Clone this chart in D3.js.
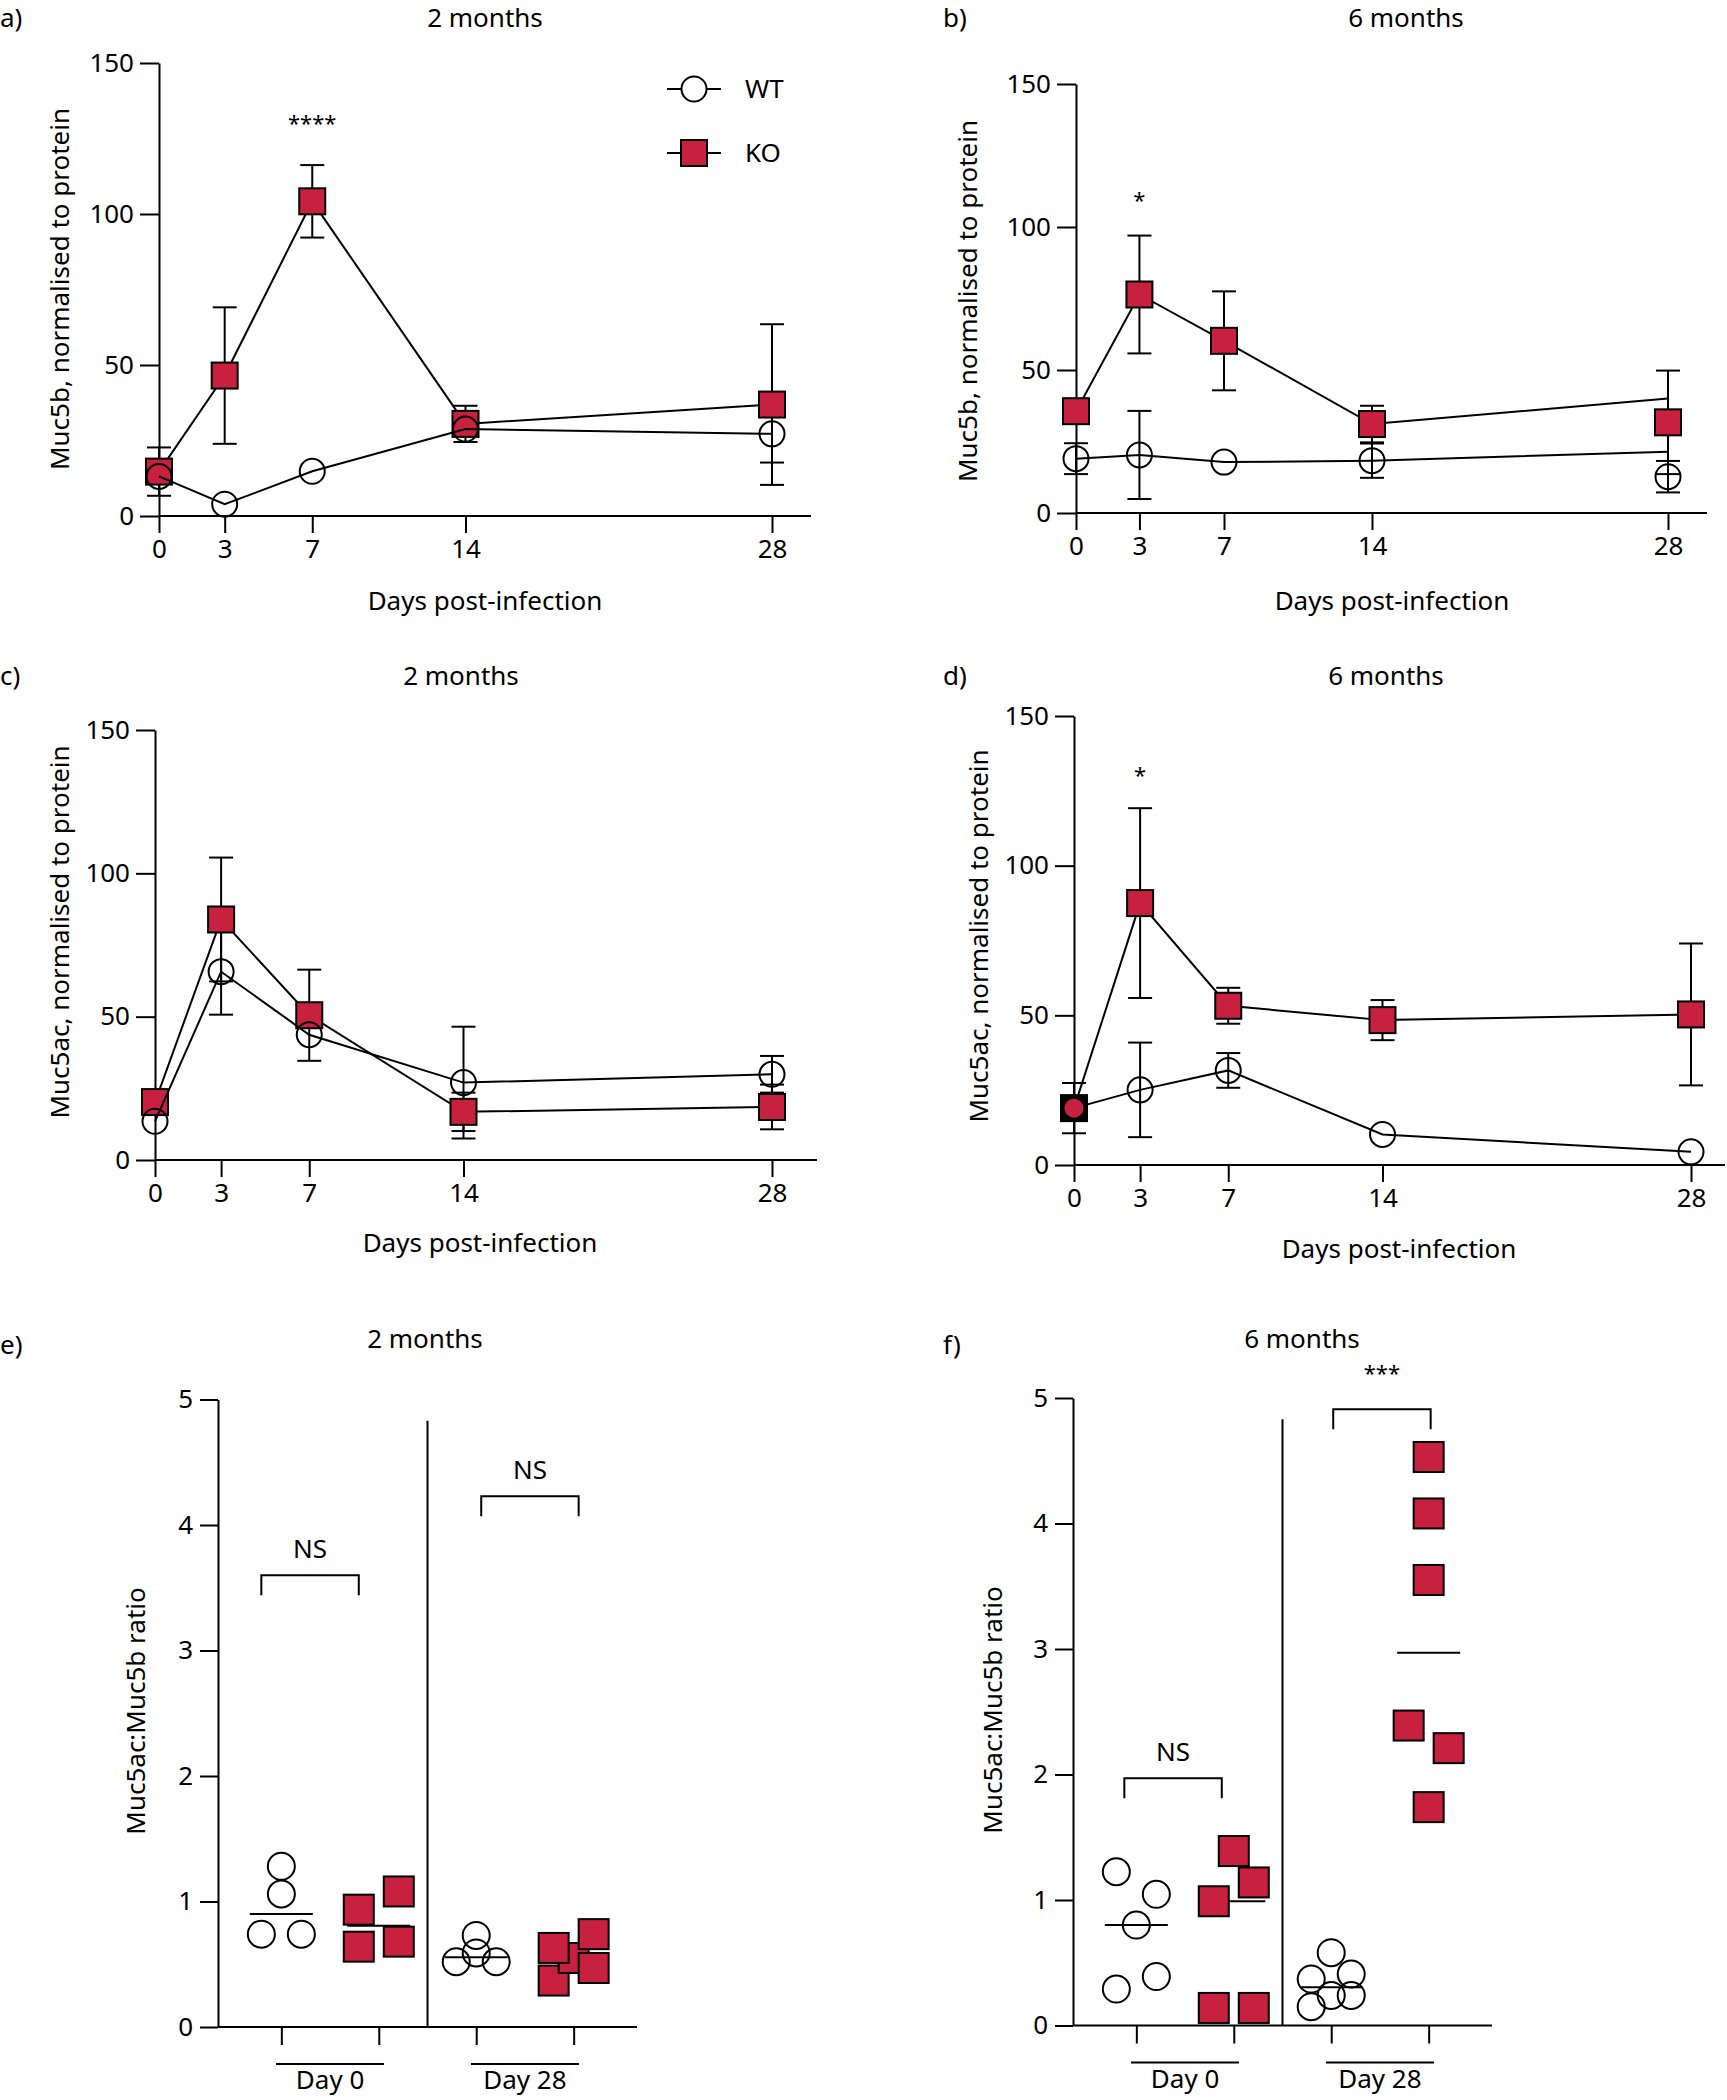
<!DOCTYPE html>
<html>
<head>
<meta charset="utf-8">
<script src="https://cdn.jsdelivr.net/npm/d3@7"></script>
<style>
  body { margin: 0; background: #fff; }
  text { font-family: "Noto Sans", sans-serif; fill: #000; }
</style>
</head>
<body>
<svg id="fig" width="1727" height="2100"></svg>
<script>
// ---- data ----
const days = [0, 3, 7, 14, 28];
const muc5bTicks = [0, 50, 100, 150];
const ratioTicks = [0, 1, 2, 3, 4, 5];

// a) Muc5b, 2 months
const a_wt = [13.1, 3.9, 14.8, 28.8, 27.2];
const a_wtSd = [0, 0, 0, 0, 9.5];
const a_ko = [14.7, 46.5, 104.2, 30.5, 36.9];
const a_koSd = [8, 22.6, 12, 6, 26.6];

// b) Muc5b, 6 months (connecting line ends off the day-28 markers in the original)
const b_wt = [19, 20.3, 17.8, 18.3, 12.7];
const b_wtSd = [5.4, 15.4, 0, 6, 5.5];
const b_wtLine = [19, 20.3, 17.8, 18.3, 21.4];
const b_ko = [35.6, 76.4, 60.2, 31.1, 31.7];
const b_koSd = [0, 20.6, 17.3, 6.4, 18.1];
const b_koLine = [35.6, 76.4, 60.2, 31.1, 40];

// c) Muc5ac, 2 months
const c_wt = [13.5, 65.7, 43.7, 27.0, 29.9];
const c_wtSd = [0, 15, 0, 19.5, 6.4];
const c_ko = [20.2, 83.9, 50.5, 16.8, 18.5];
const c_koSd = [0, 21.6, 15.9, 6.7, 7.8];

// d) Muc5ac, 6 months
const d_wt = [19, 25.1, 31.6, 10.2, 4.4];
const d_wtSd = [8.4, 15.8, 5.8, 0, 0];
const d_ko = [19, 87.5, 53.2, 48.4, 50.3];
const d_koSd = [0, 31.7, 6, 6.7, 23.7];

// e) ratio, 2 months
const e_wt0 = [1.28, 1.06, 0.74, 0.74];
const e_ko0 = [0.935, 1.08, 0.64, 0.68];
const e_wt28 = [0.52, 0.59, 0.52, 0.73];
const e_ko28 = [0.37, 0.55, 0.47, 0.63, 0.74];

// f) ratio, 6 months
const f_wt0 = [1.225, 1.045, 0.80, 0.29, 0.39];
const f_ko0 = [1.39, 0.99, 1.14, 0.14, 0.14];
const f_wt28 = [0.15, 0.37, 0.41, 0.24, 0.24, 0.58];
const f_ko28 = [4.53, 4.08, 3.55, 2.39, 2.21, 1.74];

const groupNames = ["Day 0", "Day 28"];

// ---- drawing ----
const svg = d3.select("#fig");
const KO_RED = "#c8203f";
const FS = 26;

function styleAxis(sel) {
  sel.attr("font-size", FS).attr("font-family", "Noto Sans, sans-serif");
  sel.selectAll("path, line").attr("stroke", "#000").attr("stroke-width", 2);
  sel.selectAll("text").attr("fill", "#000");
}

function addText(g, x, y, txt, anchor, size) {
  return g.append("text").attr("x", x).attr("y", y)
    .attr("text-anchor", anchor || "middle")
    .attr("font-size", size || FS).text(txt);
}

function yLabel(g, cx, cy, txt) {
  g.append("text")
    .attr("transform", `translate(${cx},${cy}) rotate(-90)`)
    .attr("text-anchor", "middle").attr("dy", "0.35em")
    .attr("font-size", FS).text(txt);
}

function errorBars(g, x, y, means, sds) {
  const pts = days.map((d, i) => ({ d: d, m: means[i], s: sds[i] })).filter(p => p.s > 0);
  const eb = g.append("g").attr("stroke", "#000").attr("stroke-width", 2);
  eb.selectAll(".v").data(pts).join("line")
    .attr("x1", p => x(p.d)).attr("x2", p => x(p.d))
    .attr("y1", p => y(p.m - p.s)).attr("y2", p => y(p.m + p.s));
  const caps = pts.flatMap(p => [{ d: p.d, v: p.m - p.s }, { d: p.d, v: p.m + p.s }]);
  eb.selectAll(".cap").data(caps).join("line")
    .attr("x1", c => x(c.d) - 12).attr("x2", c => x(c.d) + 12)
    .attr("y1", c => y(c.v)).attr("y2", c => y(c.v));
}

function linePanel(p) {
  const g = svg.append("g");
  const x = d3.scaleLinear().domain([0, 28]).range([p.x0, p.x28]);
  const y = d3.scaleLinear().domain([0, 150]).range([p.y0, p.yTop]);

  const ya = g.append("g").attr("transform", `translate(${p.x0},0)`)
    .call(d3.axisLeft(y).tickValues(muc5bTicks).tickSize(19).tickSizeOuter(0).tickPadding(6));
  styleAxis(ya);
  const xa = g.append("g").attr("transform", `translate(0,${p.y0})`)
    .call(d3.axisBottom(x).tickValues(days).tickSize(17).tickSizeOuter(0).tickPadding(7));
  xa.select(".domain").remove();
  styleAxis(xa);
  g.append("line").attr("x1", p.x0).attr("x2", p.xEnd).attr("y1", p.y0).attr("y2", p.y0)
    .attr("stroke", "#000").attr("stroke-width", 2);

  addText(g, p.label[0], p.label[1], p.tag, "start");
  addText(g, p.titleX, p.titleY, p.title);
  addText(g, p.xlabX, p.xlabY, "Days post-infection");
  yLabel(g, p.ylabX, p.ylabY, p.ylab);

  errorBars(g, x, y, p.ko, p.koSd);
  errorBars(g, x, y, p.wt, p.wtSd);

  const line = vals => d3.line().x((v, i) => x(days[i])).y(v => y(v))(vals);
  g.append("path").attr("d", line(p.koLine || p.ko))
    .attr("fill", "none").attr("stroke", "#000").attr("stroke-width", 2);
  g.selectAll(".ko").data(p.ko).join("rect")
    .attr("x", (v, i) => x(days[i]) - 13).attr("y", v => y(v) - 13)
    .attr("width", 26).attr("height", 26)
    .attr("fill", (v, i) => (p.swapFirst && i === 0) ? "#000" : KO_RED)
    .attr("stroke", "#000").attr("stroke-width", 2);
  g.append("path").attr("d", line(p.wtLine || p.wt))
    .attr("fill", "none").attr("stroke", "#000").attr("stroke-width", 2);
  g.selectAll(".wt").data(p.wt).join("circle")
    .attr("cx", (v, i) => x(days[i])).attr("cy", v => y(v))
    .attr("r", (v, i) => (p.swapFirst && i === 0) ? 9.5 : 12.5)
    .attr("fill", (v, i) => (p.swapFirst && i === 0) ? KO_RED : "none")
    .attr("stroke", (v, i) => (p.swapFirst && i === 0) ? "none" : "#000")
    .attr("stroke-width", 2);

  if (p.stars) {
    addText(g, x(p.stars.day), y(p.stars.value) + 12, p.stars.text, "middle", 22);
  }

  if (p.legend) {
    const lg = g.append("g").attr("transform", `translate(${p.legend[0]},${p.legend[1]})`);
    [["WT", 0], ["KO", 64]].forEach(([name, dy]) => {
      lg.append("line").attr("x1", -27).attr("x2", 27).attr("y1", dy).attr("y2", dy)
        .attr("stroke", "#000").attr("stroke-width", 2);
      if (name === "WT") {
        lg.append("circle").attr("cx", 0).attr("cy", dy).attr("r", 12.5)
          .attr("fill", "#fff").attr("stroke", "#000").attr("stroke-width", 2);
      } else {
        lg.append("rect").attr("x", -13).attr("y", dy - 13).attr("width", 26).attr("height", 26)
          .attr("fill", KO_RED).attr("stroke", "#000").attr("stroke-width", 2);
      }
      lg.append("text").attr("x", 51).attr("y", dy).attr("dy", "0.35em")
        .attr("font-size", FS).text(name);
    });
  }
}

// simple row-based swarm: points closer than thresh px share a row, spread over width
function swarm(vals, y, thresh, width) {
  const idx = d3.range(vals.length).sort((i, j) => vals[i] - vals[j]);
  const rows = [];
  idx.forEach(i => {
    const r = rows[rows.length - 1];
    if (r && Math.abs(y(vals[i]) - y(vals[r[0]])) < thresh) r.push(i); else rows.push([i]);
  });
  const off = vals.map(() => 0);
  rows.forEach(r => {
    r.sort((a, b) => a - b);
    r.forEach((i, k) => { off[i] = r.length === 1 ? 0 : -width / 2 + k * width / (r.length - 1); });
  });
  return off;
}

function scatterPanel(p) {
  const g = svg.append("g");
  const keys = ["wt0", "ko0", "wt28", "ko28"];
  const x = d3.scalePoint().domain(keys).range([p.ax, p.axEnd]).padding(0.65);
  const y = d3.scaleLinear().domain([0, 5]).range([p.y0, p.y5]);

  const ya = g.append("g").attr("transform", `translate(${p.ax},0)`)
    .call(d3.axisLeft(y).tickValues(ratioTicks).tickFormat(d3.format("d"))
      .tickSize(18).tickSizeOuter(0).tickPadding(7));
  styleAxis(ya);
  const xa = g.append("g").attr("transform", `translate(0,${p.y0})`)
    .call(d3.axisBottom(x).tickSize(18).tickSizeOuter(0).tickFormat(""));
  xa.select(".domain").remove();
  styleAxis(xa);
  g.append("line").attr("x1", p.ax).attr("x2", p.axEnd).attr("y1", p.y0).attr("y2", p.y0)
    .attr("stroke", "#000").attr("stroke-width", 2);

  // divider between day groups
  const xd = (x("ko0") + x("wt28")) / 2;
  g.append("line").attr("x1", xd).attr("x2", xd).attr("y1", y(4.83)).attr("y2", p.y0)
    .attr("stroke", "#000").attr("stroke-width", 2);

  // group labels
  groupNames.forEach((name, k) => {
    const mid = (x(keys[2 * k]) + x(keys[2 * k + 1])) / 2;
    g.append("line").attr("x1", mid - 54).attr("x2", mid + 54)
      .attr("y1", p.y0 + 37).attr("y2", p.y0 + 37)
      .attr("stroke", "#000").attr("stroke-width", 2);
    addText(g, mid, p.y0 + 62, name);
  });

  addText(g, p.label[0], p.label[1], p.tag, "start");
  addText(g, p.titleX, p.titleY, p.title);
  yLabel(g, p.ylabX, p.ylabY, "Muc5ac:Muc5b ratio");

  keys.forEach((k, gi) => {
    const vals = p.data[gi];
    const isKo = k.startsWith("ko");
    const size = isKo ? 30 : 27;
    const off = swarm(vals, y, isKo ? 27 : 24, 40);
    const cx = x(k);
    const med = d3.median(vals);
    g.append("line").attr("x1", cx - 31.5).attr("x2", cx + 31.5)
      .attr("y1", y(med)).attr("y2", y(med))
      .attr("stroke", "#000").attr("stroke-width", 2);
    if (isKo) {
      g.selectAll(".m" + k).data(vals).join("rect")
        .attr("x", (v, i) => cx + off[i] - size / 2).attr("y", v => y(v) - size / 2)
        .attr("width", size).attr("height", size)
        .attr("fill", KO_RED).attr("stroke", "#000").attr("stroke-width", 2);
    } else {
      g.selectAll(".m" + k).data(vals).join("circle")
        .attr("cx", (v, i) => cx + off[i]).attr("cy", v => y(v)).attr("r", size / 2)
        .attr("fill", "none").attr("stroke", "#000").attr("stroke-width", 2);
    }
  });

  p.brackets.forEach(b => {
    const x1 = x(b.from) + b.shift, x2 = x(b.to) + b.shift, yt = y(b.level);
    g.append("path").attr("d", `M${x1},${yt + 20}V${yt}H${x2}V${yt + 20}`)
      .attr("fill", "none").attr("stroke", "#000").attr("stroke-width", 2);
    if (b.label === "NS") addText(g, (x1 + x2) / 2, yt - 17, b.label);
    else addText(g, (x1 + x2) / 2, yt - 28, b.label, "middle", 22);
  });
}

linePanel({
  tag: "a)", label: [0, 27], title: "2 months", titleX: 485, titleY: 27,
  x0: 159, x28: 772, xEnd: 811, y0: 516, yTop: 63,
  xlabX: 485, xlabY: 610, ylabX: 60, ylabY: 289, ylab: "Muc5b, normalised to protein",
  wt: a_wt, wtSd: a_wtSd, ko: a_ko, koSd: a_koSd,
  stars: { day: 7, value: 131.6, text: "****" }, legend: [694, 89]
});
linePanel({
  tag: "b)", label: [943, 27], title: "6 months", titleX: 1406, titleY: 27,
  x0: 1076, x28: 1668, xEnd: 1707, y0: 513, yTop: 84,
  xlabX: 1392, xlabY: 610, ylabX: 968, ylabY: 301, ylab: "Muc5b, normalised to protein",
  wt: b_wt, wtSd: b_wtSd, wtLine: b_wtLine, ko: b_ko, koSd: b_koSd, koLine: b_koLine,
  stars: { day: 3, value: 110.7, text: "*" }
});
linePanel({
  tag: "c)", label: [0, 685], title: "2 months", titleX: 461, titleY: 685,
  x0: 155, x28: 772, xEnd: 817, y0: 1160, yTop: 730,
  xlabX: 480, xlabY: 1252, ylabX: 60, ylabY: 932, ylab: "Muc5ac, normalised to protein",
  wt: c_wt, wtSd: c_wtSd, ko: c_ko, koSd: c_koSd
});
linePanel({
  tag: "d)", label: [943, 685], title: "6 months", titleX: 1386, titleY: 685,
  x0: 1074, x28: 1691, xEnd: 1725, y0: 1165, yTop: 716,
  xlabX: 1399, xlabY: 1258, ylabX: 979, ylabY: 936, ylab: "Muc5ac, normalised to protein",
  wt: d_wt, wtSd: d_wtSd, ko: d_ko, koSd: d_koSd, swapFirst: true,
  stars: { day: 3, value: 131.5, text: "*" }
});
scatterPanel({
  tag: "e)", label: [0, 1354], title: "2 months", titleX: 425, titleY: 1348,
  ax: 218, axEnd: 637, y0: 2027, y5: 1399.5, ylabX: 136, ylabY: 1711,
  data: [e_wt0, e_ko0, e_wt28, e_ko28],
  brackets: [
    { from: "wt0", to: "ko0", level: 3.6, label: "NS", shift: -20 },
    { from: "wt28", to: "ko28", level: 4.23, label: "NS", shift: 5 }
  ]
});
scatterPanel({
  tag: "f)", label: [943, 1354], title: "6 months", titleX: 1302, titleY: 1348,
  ax: 1073, axEnd: 1492, y0: 2025.5, y5: 1398, ylabX: 993, ylabY: 1710,
  data: [f_wt0, f_ko0, f_wt28, f_ko28],
  brackets: [
    { from: "wt0", to: "ko0", level: 1.97, label: "NS", shift: -12 },
    { from: "wt28", to: "ko28", level: 4.91, label: "***", shift: 2 }
  ]
});
</script>
</body>
</html>
